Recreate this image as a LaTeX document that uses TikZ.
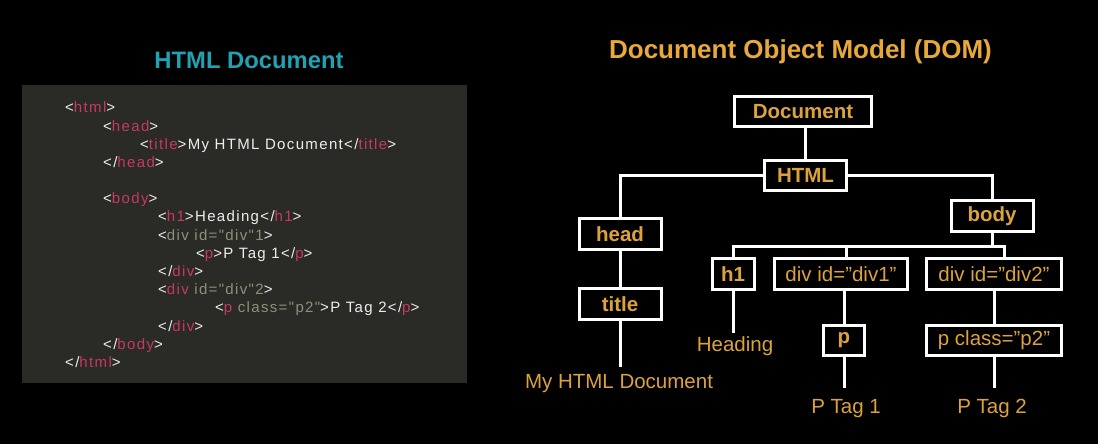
\documentclass[tikz,border=0pt]{standalone}
\usepackage{fontspec}
\setmainfont{Liberation Sans}
\newfontfamily\codefont[LetterSpace=9]{Liberation Sans}
\definecolor{tealt}{HTML}{20A2B3}
\definecolor{domtitle}{HTML}{E8A93A}
\definecolor{domtext}{HTML}{DCA23E}
\definecolor{panelc}{HTML}{2A2A26}
\definecolor{codew}{HTML}{EEEEEE}
\definecolor{tagc}{HTML}{C63A5E}
\definecolor{attc}{HTML}{8D917A}
\newcommand\ctag[1]{\textcolor{tagc}{#1}}
\newcommand\cattr[1]{\textcolor{attc}{#1}}
\begin{document}
\begin{tikzpicture}[x=1pt,y=-1pt,
  box/.style={draw=white, line width=3pt, fill=black, text=domtext,
    font=\fontsize{20.5}{24}\selectfont\bfseries, inner sep=0pt,
    minimum height=30.5pt},
  plainbox/.style={box, font=\fontsize{20.5}{24}\selectfont},
  leaf/.style={anchor=base, inner sep=0pt, text=domtext,
    font=\fontsize{20.5}{24}\selectfont},
  code/.style={anchor=base west, inner sep=0pt, text=codew,
    font=\codefont\fontsize{15}{17}\selectfont},
  link/.style={draw=white, line width=3pt}]
\useasboundingbox[fill=black] (0,0) rectangle (1098,444);

% titles
\node[font=\fontsize{23.8}{28}\selectfont\bfseries, text=tealt, anchor=base, inner sep=0pt] (t1) at (249,69) {HTML Document};
\node[font=\fontsize{26}{30}\selectfont\bfseries, text=domtitle, anchor=base, inner sep=0pt] (t2) at (800.5,59) {Document Object Model (DOM)};

% code panel
\node[fill=panelc, minimum width=445pt, minimum height=298pt, inner sep=0pt, anchor=north west] (panel) at (22,85) {};
\node[code] (c1) at (65,112) {<\ctag{html}>};
\node[code] (c2) at (103,131) {<\ctag{head}>};
\node[code] (c3) at (140,149) {<\ctag{title}>My HTML Document</\ctag{title}>};
\node[code] (c4) at (103,167) {</\ctag{head}>};
\node[code] (c5) at (103,203) {<\ctag{body}>};
\node[code] (c6) at (158,221) {<\ctag{h1}>Heading</\ctag{h1}>};
\node[code] (c7) at (158,240) {<\cattr{div id="div"1}>};
\node[code] (c8) at (196,258) {<\ctag{p}>P Tag 1</\ctag{p}>};
\node[code] (c9) at (158,276) {</\ctag{div}>};
\node[code] (c10) at (158,294) {<\ctag{div} \cattr{id="div"2}>};
\node[code] (c11) at (215,312) {<\ctag{p} \cattr{class="p2"}>P Tag 2</\ctag{p}>};
\node[code] (c12) at (158,331) {</\ctag{div}>};
\node[code] (c13) at (103,349) {</\ctag{body}>};
\node[code] (c14) at (65,367) {</\ctag{html}>};

% DOM boxes
\node[box, minimum width=137pt] (doc) at (803,111.5) {Document};
\node[box, minimum width=82pt] (html) at (805.5,175.5) {HTML};
\node[box, minimum width=82pt] (head) at (620,234) {head};
\node[box, minimum width=82pt] (title) at (620,304) {title};
\node[box, minimum width=82pt] (body) at (992,216) {body};
\node[box, minimum width=42pt] (h1) at (733,274) {h1};
\node[plainbox, minimum width=133pt] (div1) at (841,274) {div id=”div1”};
\node[plainbox, minimum width=135pt] (div2) at (994,274) {div id=”div2”};
\node[box, minimum width=41pt] (p) at (844,340.5) {p};
\node[plainbox, minimum width=135pt] (pclass) at (994,340.5) {p class=”p2”};

% leaves
\node[leaf] (lhead) at (735,351) {Heading};
\node[leaf] (ltitle) at (619,388) {My HTML Document};
\node[leaf] (lp1) at (846,413) {P Tag 1};
\node[leaf] (lp2) at (992,413) {P Tag 2};

% helper coordinates
\coordinate (bus) at (0,246);
\coordinate (d1x) at (846,0);
\coordinate (d2x) at (1004,0);
\coordinate (leafA) at (0,333);
\coordinate (leafB) at (0,367);
\coordinate (leafC) at (0,388);

% connectors
\draw[link] (html.north) -- (html.north |- doc.south);
\draw[link] (html.west) -| (head.north);
\draw[link] (html.east) -| (body.north);
\draw[link] (head.south) -- (title.north);
\draw[link] (body.south) -- (body.south |- bus);
\draw[link] (h1.north) -- (h1.north |- bus) -- (d2x |- bus) -- (d2x |- div2.north);
\draw[link] (d1x |- bus) -- (d1x |- div1.north);
\draw[link] (p.north) -- (p.north |- div1.south);
\draw[link] (pclass.north) -- (pclass.north |- div2.south);
\draw[link] (h1.south) -- (h1.south |- leafA);
\draw[link] (title.south) -- (title.south |- leafB);
\draw[link] (p.south) -- (p.south |- leafC);
\draw[link] (pclass.south) -- (pclass.south |- leafC);
\end{tikzpicture}
\end{document}
